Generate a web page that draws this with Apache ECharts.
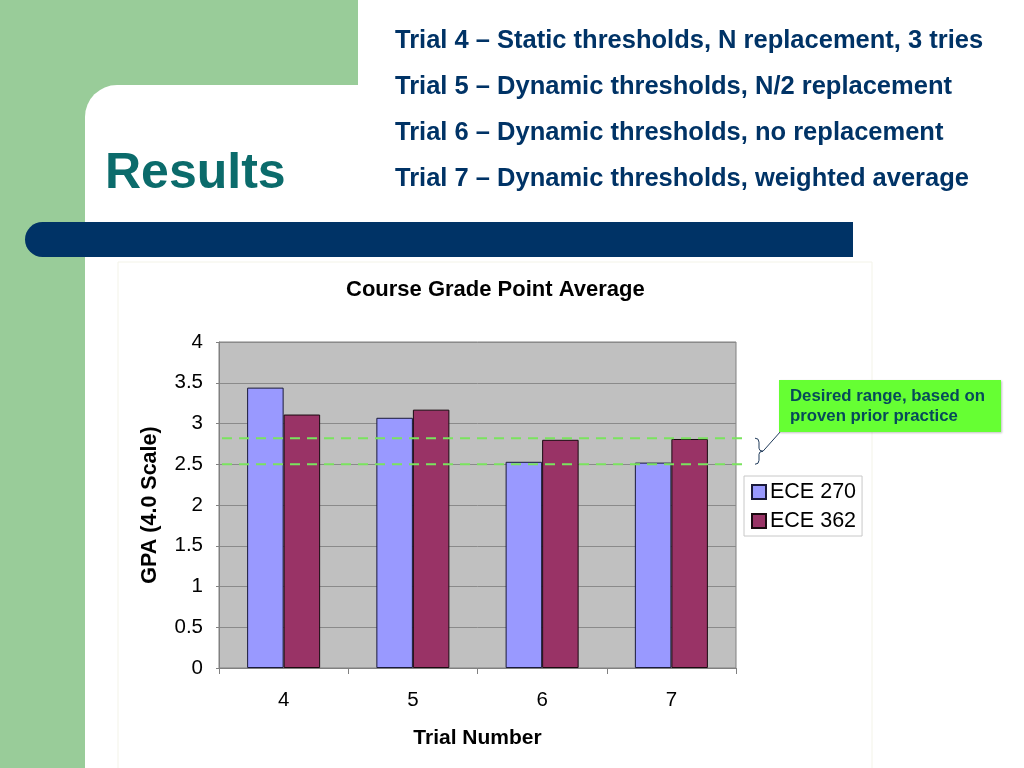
<!DOCTYPE html>
<html>
<head>
<meta charset="utf-8">
<script src="https://cdn.jsdelivr.net/npm/echarts@6/dist/echarts.min.js"></script>
<style>
html,body{margin:0;padding:0;background:#fff;}
#c{width:1024px;height:768px;}
</style>
</head>
<body>
<div id="c"></div>
<script>
const categories = ['4', '5', '6', '7'];
const ece270 = [3.44, 3.07, 2.53, 2.52];
const ece362 = [3.11, 3.17, 2.80, 2.81];
const desiredRange = [2.50, 2.82];
const yTicks = { min: 0, max: 4, interval: 0.5 };
const bulletLines = [
  'Trial 4 \u2013 Static thresholds, N replacement, 3 tries',
  'Trial 5 \u2013 Dynamic thresholds, N/2 replacement',
  'Trial 6 \u2013 Dynamic thresholds, no replacement',
  'Trial 7 \u2013 Dynamic thresholds, weighted average'
];

const FONT = "'Liberation Sans', Arial, Helvetica, sans-serif";
const chart = echarts.init(document.getElementById('c'), null, { renderer: 'canvas' });

function background() {
  const g = [
    { type: 'rect', id: 'g1', z: -10, shape: { x: 0, y: 0, width: 358, height: 115 }, style: { fill: '#99cc99' }, silent: true },
    { type: 'rect', id: 'g2', z: -10, shape: { x: 0, y: 0, width: 115, height: 768 }, style: { fill: '#99cc99' }, silent: true },
    { type: 'rect', id: 'w1', z: -9, shape: { x: 85, y: 85, width: 939, height: 683, r: [32, 0, 0, 0] }, style: { fill: '#ffffff' }, silent: true },
    { type: 'rect', id: 'bar', z: -8, shape: { x: 25, y: 222, width: 828, height: 35, r: [17.5, 0, 0, 17.5] }, style: { fill: '#003366' }, silent: true },
    { type: 'rect', id: 'area', z: -7, shape: { x: 118, y: 262, width: 754, height: 510 }, style: { fill: '#ffffff', stroke: '#f3f3e8', lineWidth: 1 }, silent: true },
    { type: 'text', id: 'res', z: 5, x: 105, y: 174, style: { text: 'Results', fill: '#0b6b6b', font: 'bold 50px ' + FONT, textVerticalAlign: 'middle' } }
  ];
  const ys = [41, 87, 133, 179];
  bulletLines.forEach((t, i) => {
    g.push({ type: 'text', id: 'b' + i, z: 5, x: 395, y: ys[i], style: { text: t, fill: '#003366', font: 'bold 25.5px ' + FONT, textVerticalAlign: 'middle' } });
  });
  return g;
}

const option = {
  animation: false,
  textStyle: { fontFamily: FONT },
  title: {
    text: 'Course Grade Point Average',
    left: 341, top: 274,
    textStyle: { fontSize: 22, fontWeight: 'bold', color: '#000', fontFamily: FONT }
  },
  grid: {
    left: 219, top: 342, width: 517, height: 326,
    show: true, backgroundColor: '#c0c0c0', borderColor: '#808080', borderWidth: 1
  },
  legend: {
    orient: 'vertical', left: 744, top: 476,
    itemWidth: 14, itemHeight: 14, itemGap: 7,
    padding: [5, 6, 4, 7], borderColor: '#c8c8c8', borderWidth: 1, backgroundColor: '#fff',
    icon: 'rect',
    textStyle: { fontSize: 21.5, color: '#000', fontFamily: FONT, padding: [0, 0, 0, -1] },
    data: ['ECE 270', 'ECE 362']
  },
  xAxis: {
    type: 'category', data: categories,
    name: 'Trial Number', nameLocation: 'middle', nameGap: 60,
    nameTextStyle: { fontSize: 21, fontWeight: 'bold', color: '#000', fontFamily: FONT },
    axisLine: { lineStyle: { color: '#808080' } },
    axisTick: { show: true, length: 6, lineStyle: { color: '#808080' } },
    axisLabel: { fontSize: 20.5, color: '#000', margin: 22, fontFamily: FONT }
  },
  yAxis: {
    type: 'value', min: yTicks.min, max: yTicks.max, interval: yTicks.interval,
    name: 'GPA (4.0 Scale)', nameLocation: 'middle', nameGap: 58,
    nameTextStyle: { fontSize: 21.5, fontWeight: 'bold', color: '#000', fontFamily: FONT },
    axisLine: { show: true, lineStyle: { color: '#808080' } },
    axisTick: { show: true, length: 3, lineStyle: { color: '#808080' } },
    axisLabel: { fontSize: 20.5, color: '#000', margin: 16, fontFamily: FONT },
    splitLine: { lineStyle: { color: '#8a8a8a', width: 1 } }
  },
  series: [
    {
      name: 'ECE 270', type: 'bar', data: ece270, barGap: '0%', barCategoryGap: '43.5%',
      itemStyle: { color: '#9999ff', borderColor: '#1a1a3a', borderWidth: 1 }
    },
    {
      name: 'ECE 362', type: 'bar', data: ece362, barGap: '0%', barCategoryGap: '43.5%',
      itemStyle: { color: '#993366', borderColor: '#1a0a10', borderWidth: 1 }
    }
  ],
  graphic: background()
};

chart.setOption(option);

// Range lines, brace and callout positioned through the y axis scale
const yLo = chart.convertToPixel({ yAxisIndex: 0 }, desiredRange[0]);
const yHi = chart.convertToPixel({ yAxisIndex: 0 }, desiredRange[1]);
const yMid = (yLo + yHi) / 2;
const bx = 755;
const braceStyle = { stroke: '#1f3a5a', fill: null, lineWidth: 1 };
const extra = [
  { type: 'line', id: 'dHi', z: 50, shape: { x1: 222, y1: yHi, x2: 747, y2: yHi }, style: { stroke: '#7ae35e', lineWidth: 2, lineDash: [10, 7] }, silent: true },
  { type: 'line', id: 'dLo', z: 50, shape: { x1: 222, y1: yLo, x2: 747, y2: yLo }, style: { stroke: '#7ae35e', lineWidth: 2, lineDash: [10, 7] }, silent: true },
  { type: 'bezierCurve', id: 'br1', z: 50, silent: true, shape: { x1: bx, y1: yHi, cpx1: bx + 4, cpy1: yHi, x2: bx + 4, y2: yHi + 4 }, style: braceStyle },
  { type: 'line', id: 'br2', z: 50, silent: true, shape: { x1: bx + 4, y1: yHi + 4, x2: bx + 4, y2: yMid - 3 }, style: braceStyle },
  { type: 'bezierCurve', id: 'br3', z: 50, silent: true, shape: { x1: bx + 4, y1: yMid - 3, cpx1: bx + 4, cpy1: yMid, x2: bx + 8, y2: yMid }, style: braceStyle },
  { type: 'bezierCurve', id: 'br4', z: 50, silent: true, shape: { x1: bx + 8, y1: yMid, cpx1: bx + 4, cpy1: yMid, x2: bx + 4, y2: yMid + 3 }, style: braceStyle },
  { type: 'line', id: 'br5', z: 50, silent: true, shape: { x1: bx + 4, y1: yMid + 3, x2: bx + 4, y2: yLo - 4 }, style: braceStyle },
  { type: 'bezierCurve', id: 'br6', z: 50, silent: true, shape: { x1: bx + 4, y1: yLo - 4, cpx1: bx + 4, cpy1: yLo, x2: bx, y2: yLo }, style: braceStyle },
  { type: 'line', id: 'conn', z: 50, shape: { x1: bx + 8, y1: yMid, x2: 781, y2: 431 }, style: { stroke: '#1f3a5a', lineWidth: 1 }, silent: true },
  { type: 'rect', id: 'callout', z: 50, shape: { x: 779, y: 380, width: 222, height: 52 },
    style: { fill: '#66ff33', shadowColor: 'rgba(0,0,0,0.25)', shadowBlur: 2, shadowOffsetX: 1, shadowOffsetY: 1 }, silent: true },
  { type: 'text', id: 'calloutText', z: 51, x: 790, y: 406,
    style: { text: 'Desired range, based on\nproven prior practice', fill: '#064a5a', font: 'bold 16.8px ' + FONT, lineHeight: 20, textVerticalAlign: 'middle' } }
];
chart.setOption({ graphic: background().concat(extra) });
</script>
</body>
</html>
